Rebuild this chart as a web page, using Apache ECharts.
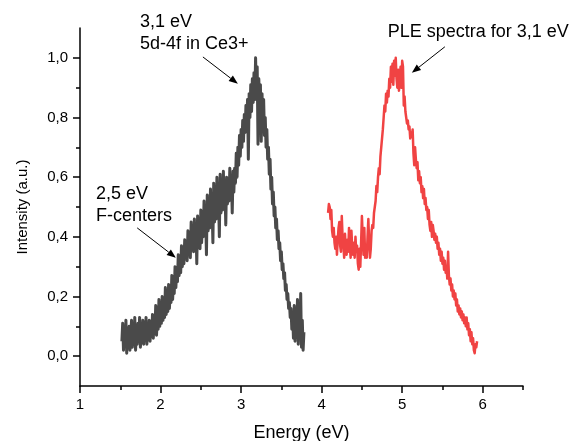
<!DOCTYPE html>
<html>
<head>
<meta charset="utf-8">
<script src="https://cdn.jsdelivr.net/npm/echarts@6/dist/echarts.min.js"></script>
<style>
html,body{margin:0;padding:0;background:#fff;}
#chart{width:574px;height:441px;}
</style>
</head>
<body>
<div id="chart"></div>
<script>
// ---- data ----
const xMajorTicks = [1, 2, 3, 4, 5, 6];
const xMinorTicks = [1.5, 2.5, 3.5, 4.5, 5.5, 6.5];
const yMajorTicks = [0, 0.2, 0.4, 0.6, 0.8, 1.0];
const yMinorTicks = [0.1, 0.3, 0.5, 0.7, 0.9];

const plEnergy = [1.52,1.53,1.54,1.55,1.56,1.57,1.58,1.59,1.60,1.61,1.62,1.63,1.64,1.65,1.66,1.67,1.68,1.69,1.70,1.71,1.72,1.73,1.74,1.75,1.76,1.77,1.78,1.79,1.80,1.81,1.82,1.83,1.84,1.85,1.86,1.87,1.88,1.89,1.90,1.91,1.92,1.93,1.94,1.95,1.96,1.97,1.98,1.99,2.00,2.01,2.02,2.03,2.04,2.05,2.06,2.07,2.08,2.09,2.10,2.11,2.12,2.13,2.14,2.15,2.16,2.17,2.18,2.19,2.20,2.21,2.22,2.23,2.24,2.25,2.26,2.27,2.28,2.29,2.30,2.31,2.32,2.33,2.34,2.35,2.36,2.37,2.38,2.39,2.40,2.41,2.42,2.43,2.44,2.45,2.46,2.47,2.48,2.49,2.50,2.51,2.52,2.53,2.54,2.55,2.56,2.57,2.58,2.59,2.60,2.61,2.62,2.63,2.64,2.65,2.66,2.67,2.68,2.69,2.70,2.71,2.72,2.73,2.74,2.75,2.76,2.77,2.78,2.79,2.80,2.81,2.82,2.83,2.84,2.85,2.86,2.87,2.88,2.89,2.90,2.91,2.92,2.93,2.94,2.95,2.96,2.97,2.98,2.99,3.00,3.01,3.02,3.03,3.04,3.05,3.06,3.07,3.08,3.09,3.10,3.11,3.12,3.13,3.14,3.15,3.16,3.17,3.18,3.19,3.20,3.21,3.22,3.23,3.24,3.25,3.26,3.27,3.28,3.29,3.30,3.31,3.32,3.33,3.34,3.35,3.36,3.37,3.38,3.39,3.40,3.41,3.42,3.43,3.44,3.45,3.46,3.47,3.48,3.49,3.50,3.51,3.52,3.53,3.54,3.55,3.56,3.57,3.58,3.59,3.60,3.61,3.62,3.63,3.64,3.65,3.66,3.67,3.68,3.69,3.70,3.71,3.72,3.73,3.74,3.75,3.76,3.77,3.78];
const plIntensity = [0.05,0.11,0.02,0.09,0.04,0.12,0.01,0.08,0.03,0.10,0.02,0.07,0.12,0.03,0.09,0.05,0.13,0.02,0.08,0.04,0.11,0.06,0.13,0.03,0.09,0.05,0.12,0.04,0.10,0.06,0.13,0.04,0.09,0.06,0.12,0.05,0.11,0.07,0.14,0.06,0.12,0.08,0.17,0.07,0.13,0.09,0.19,0.10,0.15,0.11,0.20,0.12,0.17,0.13,0.23,0.14,0.19,0.15,0.24,0.16,0.21,0.18,0.27,0.19,0.25,0.21,0.30,0.23,0.28,0.25,0.34,0.27,0.33,0.28,0.37,0.30,0.35,0.31,0.39,0.33,0.38,0.32,0.42,0.34,0.40,0.33,0.45,0.36,0.41,0.35,0.46,0.37,0.43,0.31,0.47,0.39,0.44,0.36,0.49,0.38,0.45,0.40,0.52,0.41,0.47,0.34,0.54,0.42,0.49,0.43,0.56,0.44,0.50,0.38,0.58,0.45,0.51,0.46,0.60,0.47,0.53,0.40,0.61,0.48,0.54,0.49,0.62,0.50,0.56,0.44,0.60,0.51,0.57,0.52,0.63,0.53,0.59,0.48,0.62,0.55,0.63,0.58,0.68,0.60,0.70,0.64,0.74,0.67,0.76,0.70,0.79,0.72,0.81,0.75,0.84,0.77,0.86,0.66,0.88,0.80,0.91,0.82,0.93,0.85,0.95,0.86,1.00,0.88,0.97,0.71,0.93,0.84,0.91,0.72,0.88,0.78,0.86,0.74,0.80,0.70,0.76,0.66,0.70,0.61,0.66,0.56,0.60,0.51,0.55,0.47,0.50,0.43,0.46,0.39,0.42,0.36,0.38,0.32,0.35,0.29,0.31,0.26,0.28,0.22,0.24,0.19,0.21,0.16,0.18,0.13,0.16,0.09,0.14,0.06,0.17,0.05,0.13,0.07,0.19,0.04,0.15,0.06,0.21,0.03,0.12,0.02,0.08];

const pleEnergy = [4.08,4.09,4.10,4.11,4.12,4.13,4.14,4.15,4.16,4.17,4.18,4.19,4.20,4.21,4.22,4.23,4.24,4.25,4.26,4.27,4.28,4.29,4.30,4.31,4.32,4.33,4.34,4.35,4.36,4.37,4.38,4.39,4.40,4.41,4.42,4.43,4.44,4.45,4.46,4.47,4.48,4.49,4.50,4.51,4.52,4.53,4.54,4.55,4.56,4.57,4.58,4.59,4.60,4.61,4.62,4.63,4.64,4.65,4.66,4.67,4.68,4.69,4.70,4.71,4.72,4.73,4.74,4.75,4.76,4.77,4.78,4.79,4.80,4.81,4.82,4.83,4.84,4.85,4.86,4.87,4.88,4.89,4.90,4.91,4.92,4.93,4.94,4.95,4.96,4.97,4.98,4.99,5.00,5.01,5.02,5.03,5.04,5.05,5.06,5.07,5.08,5.09,5.10,5.11,5.12,5.13,5.14,5.15,5.16,5.17,5.18,5.19,5.20,5.21,5.22,5.23,5.24,5.25,5.26,5.27,5.28,5.29,5.30,5.31,5.32,5.33,5.34,5.35,5.36,5.37,5.38,5.39,5.40,5.41,5.42,5.43,5.44,5.45,5.46,5.47,5.48,5.49,5.50,5.51,5.52,5.53,5.54,5.55,5.56,5.57,5.58,5.59,5.60,5.61,5.62,5.63,5.64,5.65,5.66,5.67,5.68,5.69,5.70,5.71,5.72,5.73,5.74,5.75,5.76,5.77,5.78,5.79,5.80,5.81,5.82,5.83,5.84,5.85,5.86,5.87,5.88,5.89,5.90,5.91,5.92,5.93];
const pleIntensity = [0.48,0.51,0.50,0.46,0.49,0.42,0.40,0.43,0.38,0.36,0.40,0.34,0.39,0.43,0.45,0.37,0.35,0.47,0.40,0.37,0.33,0.41,0.36,0.34,0.39,0.35,0.43,0.37,0.33,0.42,0.36,0.34,0.38,0.33,0.40,0.35,0.37,0.31,0.29,0.36,0.30,0.38,0.47,0.40,0.34,0.43,0.33,0.36,0.33,0.40,0.46,0.38,0.33,0.36,0.42,0.44,0.43,0.48,0.50,0.52,0.57,0.55,0.60,0.63,0.61,0.67,0.70,0.73,0.76,0.80,0.84,0.82,0.88,0.85,0.89,0.87,0.93,0.90,0.97,0.92,0.98,0.91,0.99,0.94,1.00,0.93,0.90,0.96,0.89,0.93,0.97,0.90,0.99,0.97,0.84,0.87,0.82,0.80,0.78,0.79,0.76,0.77,0.73,0.75,0.74,0.76,0.68,0.64,0.70,0.66,0.63,0.65,0.59,0.62,0.58,0.60,0.55,0.57,0.53,0.56,0.51,0.53,0.49,0.50,0.46,0.49,0.44,0.42,0.45,0.40,0.44,0.42,0.39,0.41,0.38,0.40,0.36,0.38,0.34,0.36,0.32,0.35,0.31,0.33,0.29,0.32,0.28,0.30,0.26,0.35,0.27,0.24,0.26,0.22,0.24,0.20,0.22,0.19,0.21,0.17,0.19,0.15,0.17,0.14,0.16,0.13,0.15,0.12,0.14,0.11,0.13,0.10,0.13,0.09,0.11,0.07,0.09,0.05,0.08,0.04,0.06,0.02,0.01,0.04,0.03,0.05];

// annotations (data coordinates)
const annoTexts = ['3,1 eV\n5d-4f in Ce3+', '2,5 eV\nF-centers', 'PLE spectra for 3,1 eV'];
const annoTextAt = [[1.744, 1.084], [1.199, 0.507], [4.821, 1.086]];
const arrowFrom = [[2.526, 1.003], [1.71, 0.43], [5.53, 1.037]];
const arrowTo = [[2.96, 0.913], [2.19, 0.33], [5.12, 0.95]];

// ---- chart ----
const FONT = "'Liberation Sans', Arial, sans-serif";
const zip = (a, b) => a.map((v, i) => [v, b[i]]);
const fmt = v => v.toFixed(1).replace('.', ',');

const chart = echarts.init(document.getElementById('chart'), null, {renderer: 'canvas'});

function textPoint(i) {
  return {
    coord: annoTextAt[i],
    symbolSize: 0,
    itemStyle: {color: 'transparent'},
    label: {
      show: true, position: [0, 0], align: 'left', verticalAlign: 'middle',
      formatter: annoTexts[i], color: '#000', fontSize: 18, lineHeight: 22, fontFamily: FONT
    }
  };
}
const markPointCommon = {silent: true, animation: false, emphasis: {disabled: true}};

// arrows as custom series in data coordinates
function arrowSeries() {
  return {
    type: 'custom', xAxisIndex: 0, yAxisIndex: 0, silent: true, z: 5,
    data: arrowFrom.map((f, i) => [f[0], f[1], arrowTo[i][0], arrowTo[i][1]]),
    renderItem: function (params, api) {
      const p0 = api.coord([api.value(0), api.value(1)]);
      const p1 = api.coord([api.value(2), api.value(3)]);
      const dx = p1[0] - p0[0], dy = p1[1] - p0[1];
      const len = Math.sqrt(dx * dx + dy * dy);
      const ux = dx / len, uy = dy / len;
      const hl = 9, hw = 3.5;
      const bx = p1[0] - ux * hl, by = p1[1] - uy * hl;
      return {
        type: 'group',
        children: [{
          type: 'line',
          shape: {x1: p0[0], y1: p0[1], x2: bx, y2: by},
          style: {stroke: '#000', lineWidth: 1}
        }, {
          type: 'polygon',
          shape: {points: [[p1[0], p1[1]], [bx - uy * hw, by + ux * hw], [bx + uy * hw, by - ux * hw]]},
          style: {fill: '#000'}
        }]
      };
    },
    clip: false
  };
}

chart.setOption({
  animation: false,
  backgroundColor: '#fff',
  grid: {left: 80, right: 51, top: 28, bottom: 55, containLabel: false, outerBoundsMode: 'none'},
  xAxis: [{
    type: 'value', min: 1, max: 6.5, position: 'bottom',
    name: 'Energy (eV)', nameLocation: 'middle', nameGap: 38,
    nameTextStyle: {fontSize: 18, color: '#000', fontFamily: FONT},
    axisLine: {show: true, onZero: false, lineStyle: {color: '#000', width: 1.5}},
    axisTick: {show: true, inside: false, length: 7, customValues: xMajorTicks, lineStyle: {color: '#000', width: 1.5}},
    axisLabel: {show: true, customValues: xMajorTicks, margin: 11, fontSize: 15, color: '#000', fontFamily: FONT, formatter: v => String(v)},
    splitLine: {show: false}
  }, {
    type: 'value', min: 1, max: 6.5, position: 'bottom', gridIndex: 0,
    axisLine: {show: false, onZero: false},
    axisTick: {show: true, length: 4, customValues: xMinorTicks, lineStyle: {color: '#000', width: 1.5}},
    axisLabel: {show: false},
    splitLine: {show: false}
  }],
  yAxis: [{
    type: 'value', min: -0.1, max: 1.1, position: 'left',
    name: 'Intensity (a.u.)', nameLocation: 'middle', nameGap: 50,
    nameTextStyle: {fontSize: 15, color: '#000', fontFamily: FONT},
    axisLine: {show: true, onZero: false, lineStyle: {color: '#000', width: 1.5}},
    axisTick: {show: true, length: 7, customValues: yMajorTicks, lineStyle: {color: '#000', width: 1.5}},
    axisLabel: {show: true, customValues: yMajorTicks, margin: 12, fontSize: 15, color: '#000', fontFamily: FONT, formatter: fmt},
    splitLine: {show: false}
  }, {
    type: 'value', min: -0.1, max: 1.1, position: 'left', gridIndex: 0,
    axisLine: {show: false, onZero: false},
    axisTick: {show: true, length: 4, customValues: yMinorTicks, lineStyle: {color: '#000', width: 1.5}},
    axisLabel: {show: false},
    splitLine: {show: false}
  }],
  series: [{
    name: 'PL', type: 'line', xAxisIndex: 0, yAxisIndex: 0,
    data: zip(plEnergy, plIntensity),
    showSymbol: false, symbol: 'none', smooth: false,
    lineStyle: {color: '#4a4a4a', width: 3, join: 'round'},
    itemStyle: {color: '#4a4a4a'},
    emphasis: {disabled: true},
    markPoint: Object.assign({data: [textPoint(0), textPoint(1)]}, markPointCommon)
  }, {
    name: 'PLE', type: 'line', xAxisIndex: 0, yAxisIndex: 0,
    data: zip(pleEnergy, pleIntensity),
    showSymbol: false, symbol: 'none', smooth: false,
    lineStyle: {color: '#f04343', width: 2.5, join: 'round'},
    itemStyle: {color: '#f04343'},
    emphasis: {disabled: true},
    markPoint: Object.assign({data: [textPoint(2)]}, markPointCommon)
  }, arrowSeries()]
});
</script>
</body>
</html>
